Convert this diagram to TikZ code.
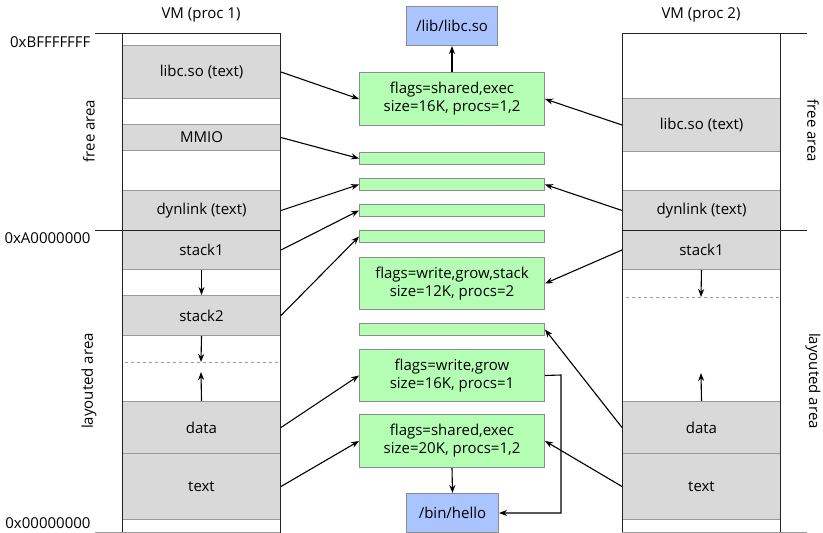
\documentclass[tikz,border=0pt]{standalone}
\usepackage{fontspec}
\setmainfont{Open Sans}
\usetikzlibrary{arrows.meta}
\definecolor{seggray}{HTML}{D9D9D9}
\definecolor{segline}{HTML}{9A9A9A}
\definecolor{mapgreen}{HTML}{B5FFB5}
\definecolor{mapline}{HTML}{8C8C8C}
\definecolor{fileblue}{HTML}{A9C4FF}
\definecolor{colline}{HTML}{222222}
\begin{document}
\begin{tikzpicture}[x=1pt,y=-1pt,
  font=\fontsize{15}{18}\selectfont,
  seg/.style={draw=segline, fill=seggray, line width=1pt, minimum width=158pt, inner sep=0pt, anchor=north west},
  mapbox/.style={draw=mapline, fill=mapgreen, line width=1pt, minimum width=185pt, inner sep=0pt, anchor=north west, align=center},
  filebox/.style={draw=mapline, fill=fileblue, line width=1pt, minimum width=91pt, minimum height=39pt, inner sep=0pt, anchor=north west},
  link/.style={-{Stealth[length=8pt,width=6pt]}, line width=1.1pt},
  colborder/.style={draw=colline, line width=0.9pt},
  freeline/.style={draw=segline, dashed, line width=1pt}]
\useasboundingbox (0,0) rectangle (823,533);

% ---------- process 1 address space ----------
\node (t1) at (201,15) {VM (proc 1)};
\node[seg, minimum height=53pt] (l1libc) at (122,45) {libc.so (text)};
\node[seg, minimum height=26pt] (l1mmio) at (122,124) {MMIO};
\node[seg, minimum height=40pt] (l1dyn) at (122,190) {dynlink (text)};
\node[seg, minimum height=39pt] (l1st1) at (122,230) {stack1};
\node[seg, minimum height=40pt] (l1st2) at (122,295) {stack2};
\node[seg, minimum height=52pt] (l1data) at (122,401) {data};
\node[seg, minimum height=66pt] (l1text) at (122,453) {text};
\draw[colborder] (122,33) -- (122,533) (280,33) -- (280,533);
\draw[colborder] (95,33) -- (280,33);
\draw[colborder] (95,230) -- (280,230);
\draw[draw=segline] (95,532.5) -- (280,532.5);
\coordinate (l1gapL) at (125,362);
\coordinate (l1gapR) at (280,362);
\draw[freeline] (l1gapL) -- (l1gapR);
\coordinate (l1down) at (201,362);
\coordinate (l1up) at (201,372);
\draw[link] (l1st1.south) -- (l1st2.north);
\draw[link] (l1st2.south) -- (l1down);
\draw[link] (l1data.north) -- (l1up);

\node[anchor=east] (aTop) at (94,42) {0xBFFFFFFF};
\node[anchor=east] (aMid) at (94,238) {0xA0000000};
\node[anchor=east] (aBot) at (94,523) {0x00000000};
\node[rotate=90] (fa1) at (89,131) {free area};
\node[rotate=90] (la1) at (89,381) {layouted area};

% ---------- process 2 address space ----------
\node (t2) at (701,15) {VM (proc 2)};
\node[seg, minimum height=53pt] (r2libc) at (622,98) {libc.so (text)};
\node[seg, minimum height=40pt] (r2dyn) at (622,190) {dynlink (text)};
\node[seg, minimum height=39pt] (r2st1) at (622,230) {stack1};
\node[seg, minimum height=52pt] (r2data) at (622,401) {data};
\node[seg, minimum height=66pt] (r2text) at (622,453) {text};
\draw[colborder] (622,33) -- (622,533) (780,33) -- (780,533);
\draw[colborder] (622,33) -- (807,33);
\draw[colborder] (622,230) -- (807,230);
\draw[draw=segline] (622,532.5) -- (807,532.5);
\coordinate (r2gapL) at (626,297);
\coordinate (r2gapR) at (780,297);
\draw[freeline] (r2gapL) -- (r2gapR);
\coordinate (r2down) at (701,297);
\coordinate (r2up) at (701,373);
\draw[link] (r2st1.south) -- (r2down);
\draw[link] (r2data.north) -- (r2up);

\node[rotate=-90] (fa2) at (813,131) {free area};
\node[rotate=-90] (la2) at (813,381) {layouted area};

% ---------- shared mapping objects ----------
\node[filebox] (libfile) at (406,6) {/lib/libc.so};
\node[mapbox, minimum height=53pt] (mA) at (359,72) {flags=shared,exec\\size=16K, procs=1,2};
\node[mapbox, minimum height=12pt] (bar1) at (359,152) {};
\node[mapbox, minimum height=12pt] (bar2) at (359,178) {};
\node[mapbox, minimum height=12pt] (bar3) at (359,204) {};
\node[mapbox, minimum height=12pt] (bar4) at (359,230) {};
\node[mapbox, minimum height=52pt] (mB) at (359,257) {flags=write,grow,stack\\size=12K, procs=2};
\node[mapbox, minimum height=12pt] (bar5) at (359,323) {};
\node[mapbox, minimum height=52pt] (mC) at (359,349) {flags=write,grow\\size=16K, procs=1};
\node[mapbox, minimum height=53pt] (mD) at (359,414) {flags=shared,exec\\size=20K, procs=1,2};
\node[filebox, minimum width=92pt] (binfile) at (406,493) {/bin/hello};

% ---------- connectors ----------
\draw[link] (mA.north) -- (libfile.south);
\draw[link] (mD.south) -- (binfile.north);
\coordinate (cBend1) at (561,375);
\coordinate (cBend2) at (561,513);
\draw[link] (mC.east) -- (cBend1) -- (cBend2) -- (binfile.east |- cBend2);

\draw[link] (l1libc.east) -- (mA.west);
\draw[link] (l1mmio.east) -- (bar1.west);
\draw[link] (l1dyn.east) -- (bar2.west);
\draw[link] (l1st1.east) -- (bar3.west);
\draw[link] (l1st2.east) -- (bar4.west);
\draw[link] (l1data.east) -- (mC.west);
\draw[link] (l1text.east) -- (mD.west);

\draw[link] (r2libc.west) -- (mA.east);
\draw[link] (r2dyn.west) -- (bar2.east);
\draw[link] (r2st1.west) -- (mB.east);
\draw[link] (r2data.west) -- (bar5.east);
\draw[link] (r2text.west) -- (mD.east);
\end{tikzpicture}
\end{document}
